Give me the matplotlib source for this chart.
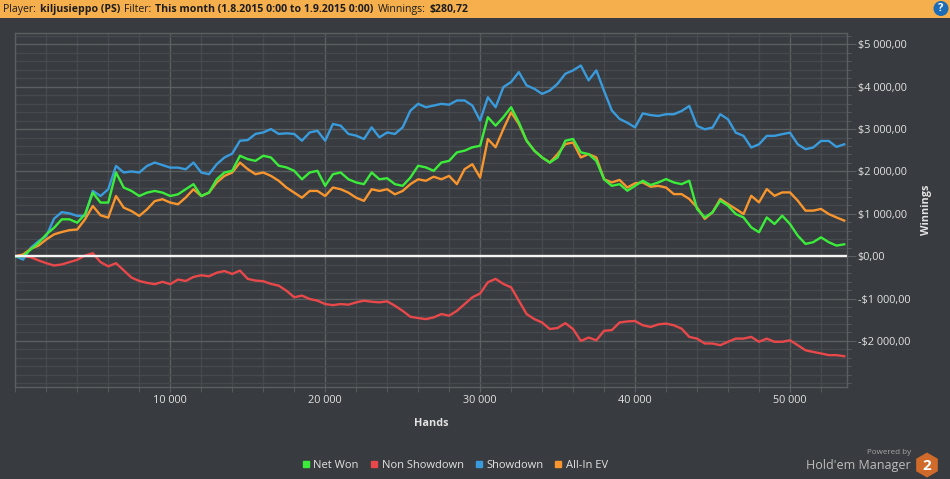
import numpy as np
import matplotlib

matplotlib.use("Agg")
import matplotlib.pyplot as plt
from matplotlib.patches import Rectangle, Circle, RegularPolygon
from matplotlib.lines import Line2D
from matplotlib.ticker import MultipleLocator, FixedLocator, FuncFormatter

hands = np.arange(0, 54000, 500)

net_won = [
    0, 0, 160, 315, 515, 670, 870, 870, 790, 990,
    1500, 1265, 1265, 1975, 1620, 1540, 1420, 1500, 1540, 1500,
    1420, 1460, 1580, 1700, 1420, 1500, 1815, 1975, 2015,
    2370, 2290, 2250, 2370, 2330, 2135, 2095, 2015, 1815, 1975,
    2015, 1660, 1935, 1975, 1815, 1740, 1700, 1975, 1815, 1840,
    1700, 1660, 1855, 2135, 2095, 2015, 2210, 2250,
    2450, 2490, 2570, 2605, 3280, 3080, 3280, 3515, 3160, 2725,
    2490, 2330, 2210, 2330, 2725, 2765, 2450, 2410, 2250, 1815,
    1660, 1700, 1545, 1660, 1780, 1680,
    1740, 1820, 1740, 1700, 1780, 1115, 915, 1035, 1310, 1190,
    995, 915, 680, 565, 915, 760, 955, 760, 485, 290,
    330, 445, 330, 250, 280,
]

non_showdown = [
    0, 0, -25, -100, -165, -220, -195, -140, -85, 15,
    70, -140, -240, -165, -335, -505, -585, -630, -660, -605,
    -660, -550, -585, -490, -450, -475, -390, -350, -420,
    -340, -535, -575, -590, -655, -695, -815, -970, -930, -1010,
    -1050, -1130, -1155, -1130, -1145, -1090, -1050, -1075, -1090, -1065,
    -1170, -1290, -1430, -1460, -1485, -1445, -1365, -1405,
    -1290, -1130, -970, -880, -615, -535, -655, -735, -1050, -1365,
    -1485, -1565, -1720, -1695, -1580, -1720, -2000, -1920, -1985, -1760,
    -1745, -1565, -1540, -1530, -1630, -1670,
    -1610, -1590, -1630, -1710, -1905, -1945, -2060, -2060, -2100, -2020,
    -1945, -1945, -1905, -2020, -1945, -2020, -2020, -1985, -2100, -2220,
    -2260, -2295, -2335, -2335, -2360,
]

showdown = [
    0, -80, 200, 355, 475, 885, 1040, 1010, 950, 950,
    1540, 1420, 1580, 2130, 1975, 2000, 1975, 2130, 2210, 2150,
    2090, 2090, 2050, 2210, 1975, 1935, 2170, 2330, 2420,
    2725, 2740, 2885, 2920, 3000, 2885, 2900, 2885, 2725, 2920,
    2960, 2725, 3120, 3080, 2885, 2845, 2765, 3040, 2805, 2920,
    2885, 3040, 3435, 3595, 3515, 3555, 3595, 3575,
    3675, 3675, 3555, 3200, 3750, 3515, 3990, 4110, 4345, 4030,
    3950, 3830, 3910, 4070, 4305, 4385, 4500, 4150, 4385, 3900,
    3440, 3240, 3150, 3040, 3370, 3330,
    3310, 3350, 3350, 3425, 3545, 3075, 2995, 3035, 3350, 3230,
    2915, 2840, 2565, 2640, 2840, 2840, 2880, 2915, 2640, 2525,
    2565, 2720, 2720, 2580, 2640,
]

all_in_ev = [
    0, 40, 175, 250, 395, 515, 570, 615, 630, 870,
    1185, 965, 910, 1420, 1145, 1065, 950, 1105, 1300, 1345,
    1265, 1225, 1385, 1580, 1420, 1500, 1740, 1895, 1975,
    2210, 2055, 1935, 1975, 1895, 1780, 1620, 1500, 1380, 1540,
    1540, 1420, 1620, 1580, 1500, 1380, 1305, 1580, 1540, 1580,
    1460, 1540, 1700, 1815, 1780, 1875, 1815, 1895,
    1700, 2055, 2170, 1855, 2765, 2570, 3000, 3395, 3120, 2725,
    2490, 2330, 2210, 2410, 2645, 2685, 2330, 2410, 2330, 1815,
    1740, 1800, 1620, 1720, 1740, 1640,
    1660, 1620, 1465, 1465, 1350, 1150, 880, 1035, 1350, 1230,
    1115, 995, 1425, 1270, 1585, 1425, 1505, 1505, 1310, 1075,
    1075, 1115, 995, 915, 840,
]

labels = ["Net Won", "Non Showdown", "Showdown", "All-In EV"]
colors = ["#3bec3b", "#e9484b", "#3a9bdc", "#f7952f"]
draw_order = [1, 2, 3, 0]  # red, blue, orange, green on top

x_ticks = [10000, 20000, 30000, 40000, 50000]
y_ticks = [-2000, -1000, 0, 1000, 2000, 3000, 4000, 5000]

header = [
    ("Player:", "normal"),
    ("kiljusieppo (PS)", "bold"),
    ("Filter:", "normal"),
    ("This month (1.8.2015 0:00 to 1.9.2015 0:00)", "bold"),
    ("Winnings:", "normal"),
    ("$280,72", "bold"),
]

BG = "#383b3f"
GRID_MINOR = "#46494d"
GRID_MAJOR = "#5c5f62"
TEXT = "#e2e2e2"

plt.rcParams["font.family"] = ["Open Sans", "DejaVu Sans"]

W, H = 950, 479
fig = plt.figure(figsize=(W / 100, H / 100), dpi=100, facecolor=BG)
renderer = fig.canvas.get_renderer()

# overlay in pixel coordinates for the header bar and the logo
ov = fig.add_axes([0, 0, 1, 1])
ov.set_xlim(0, W)
ov.set_ylim(H, 0)
ov.axis("off")
ov.add_patch(Rectangle((0, 0), W, 17.5, color="#f5af4c", lw=0))
x = 3
for s, w in header:
    t = ov.text(x, 9, s, fontsize=7.6, fontweight=w, color="#1c1c1c",
                ha="left", va="center")
    x += t.get_window_extent(renderer).width + 4
ov.add_patch(Circle((941, 8.5), 7.5, color="#1d6cb5", lw=0))
ov.text(941, 8.8, "?", fontsize=8, fontweight="bold", color="white",
        ha="center", va="center")

ov.text(911, 453, "Powered by", fontsize=5.8, color="#a6a6a6",
        ha="right", va="center")
ov.text(911, 465, "Hold'em Manager", fontsize=9, color="#bdbdbd",
        ha="right", va="center")
ov.add_patch(RegularPolygon((927, 465), 6, radius=12.5, color="#cf6a2b", lw=0))
ov.text(927, 466, "2", fontsize=11, fontweight="bold", color="white",
        ha="center", va="center")

# main chart
left, right, top, bottom = 15.3, 846.7, 33.3, 386.7
ax = fig.add_axes([left / W, 1 - bottom / H, (right - left) / W, (bottom - top) / H])
ax.set_facecolor(BG)

series = [net_won, non_showdown, showdown, all_in_ev]
for i in draw_order:
    ax.plot(hands, series[i], color=colors[i], lw=1.7, zorder=3)
ax.axhline(0, color="#f4f4f4", lw=1.7, zorder=5)

ax.set_xlim(0, 53660)
ax.set_ylim(-3080, 5260)
ax.xaxis.set_major_locator(FixedLocator(x_ticks))
ax.xaxis.set_minor_locator(MultipleLocator(2000))
ax.yaxis.set_major_locator(FixedLocator(y_ticks))
ax.yaxis.set_minor_locator(MultipleLocator(200))
ax.grid(which="minor", color=GRID_MINOR, lw=1, zorder=0)
ax.grid(which="major", color=GRID_MAJOR, lw=1, zorder=0)
ax.set_axisbelow(True)


def money(v, _):
    s = f"{abs(v):,.2f}".replace(",", " ").replace(".", ",")
    return ("-$" if v < 0 else "$") + s


ax.xaxis.set_major_formatter(FuncFormatter(lambda v, _: f"{v:,.0f}".replace(",", " ")))
ax.yaxis.set_major_formatter(FuncFormatter(money))
ax.yaxis.tick_right()
ax.tick_params(axis="x", which="both", length=3.6, color=GRID_MAJOR,
               labelcolor=TEXT, labelsize=7.8, pad=2.2)
ax.tick_params(axis="y", which="major", length=6.7, color=GRID_MAJOR,
               labelcolor=TEXT, labelsize=7.8, pad=1.2)
ax.tick_params(axis="y", which="minor", length=3.1, color=GRID_MAJOR)
for sp in ax.spines.values():
    sp.set_color(GRID_MAJOR)
    sp.set_linewidth(1)

fig.text(431 / W, 1 - 423 / H, "Hands", fontsize=7.8, fontweight="bold",
         color=TEXT, ha="center", va="center")
fig.text(927 / W, 1 - 210 / H, "Winnings", fontsize=7.8, fontweight="bold",
         color=TEXT, ha="center", va="center", rotation=90)

handles = [Line2D([], [], marker="s", ls="none", color=c, markersize=5) for c in colors]
fig.legend(handles, labels, loc="center", bbox_to_anchor=(455 / W, 1 - 465 / H),
           ncol=4, frameon=False, fontsize=8, labelcolor=TEXT,
           handlelength=0.7, handletextpad=0.35, columnspacing=1.0)

fig.savefig("out.png", dpi=100, facecolor=BG)
